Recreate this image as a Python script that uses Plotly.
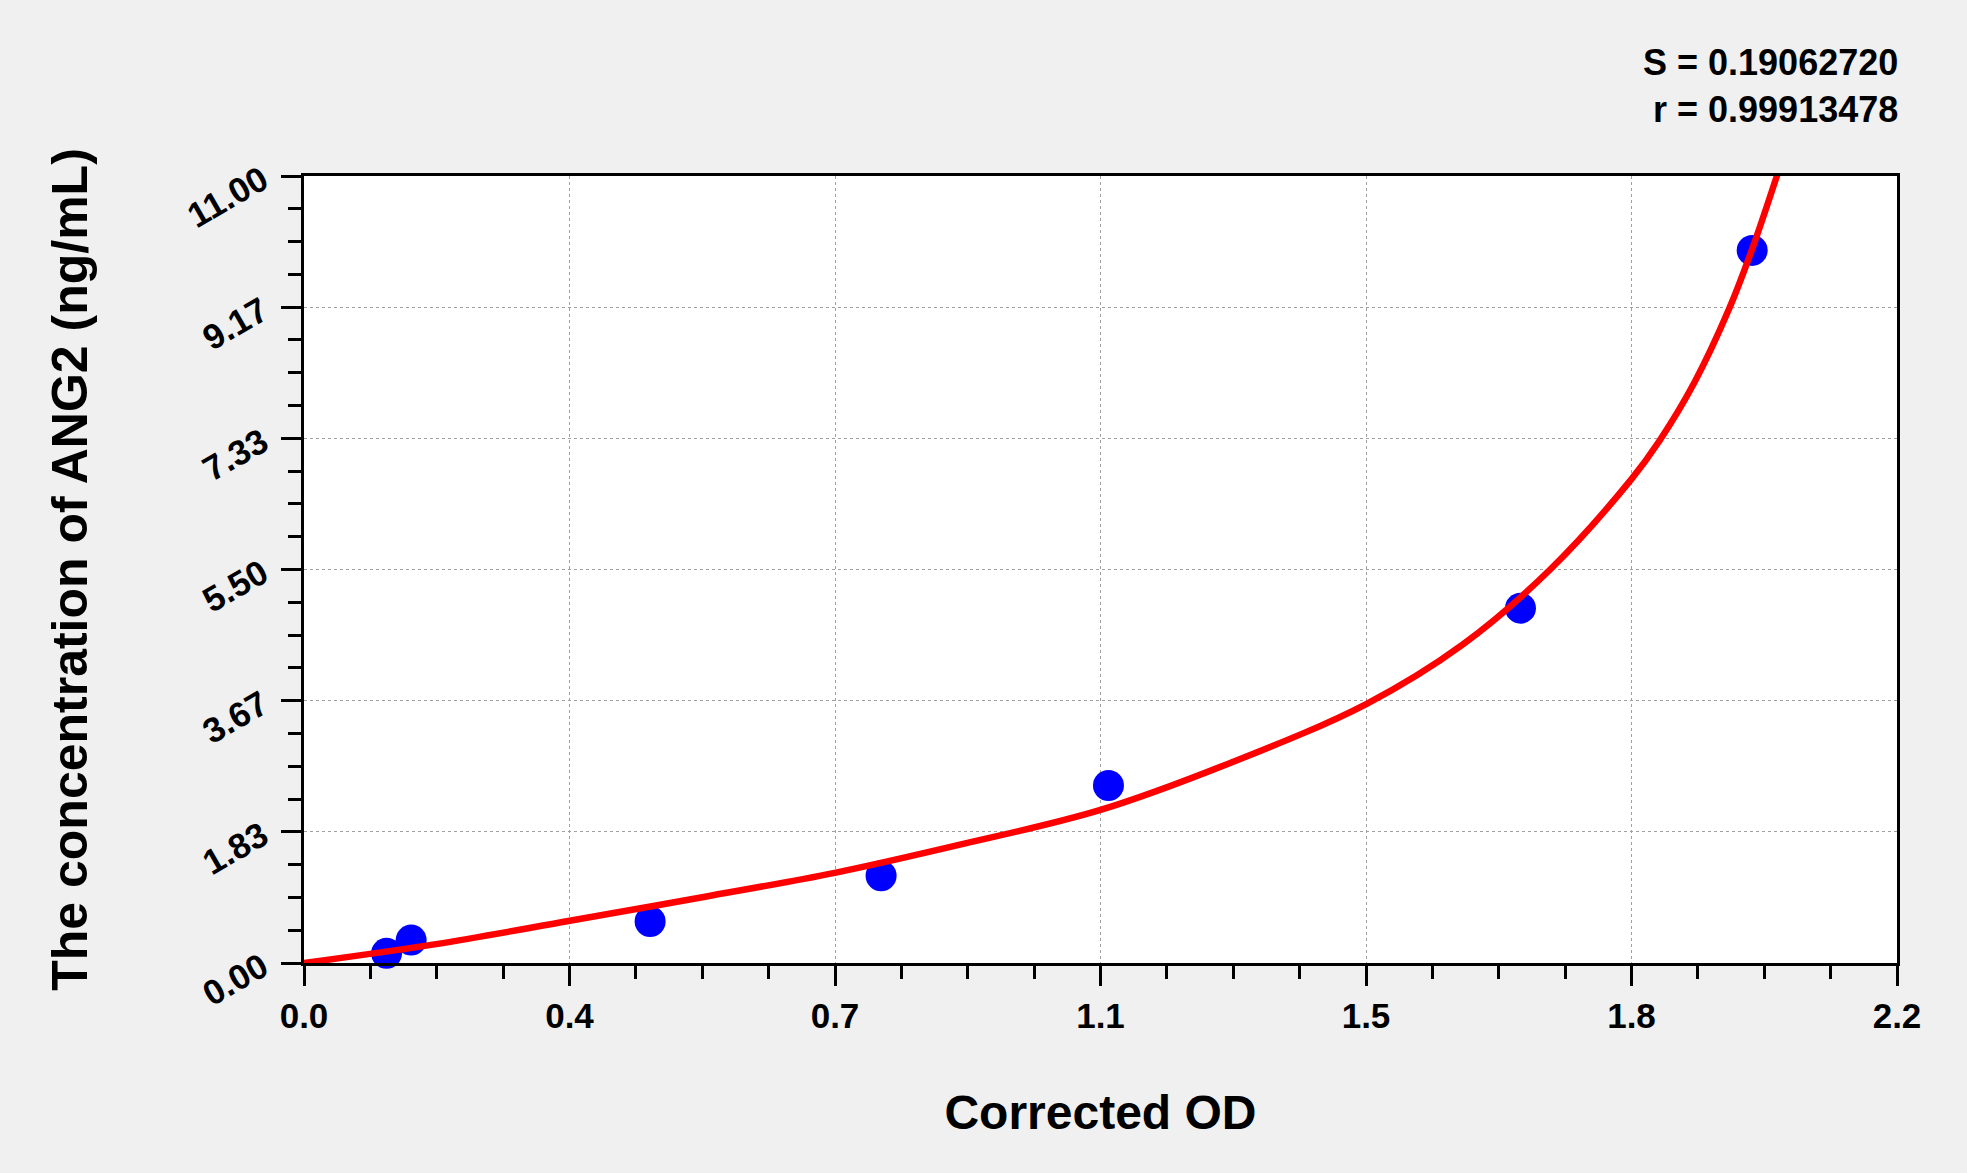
import plotly.graph_objects as go

# Standard points (Corrected OD vs concentration)
od_points = [0.114, 0.148, 0.478, 0.797, 1.111, 1.680, 2.000]
conc_points = [0.135, 0.32, 0.58, 1.22, 2.48, 4.96, 9.96]

# Fitted curve
curve_od = [0.0, 0.18, 0.367, 0.55, 0.733, 0.90, 1.10, 1.28, 1.467, 1.60, 1.721, 1.833, 1.872, 1.920, 1.968, 2.000, 2.037]
curve_conc = [0.0, 0.26, 0.59, 0.92, 1.26, 1.64, 2.14, 2.80, 3.62, 4.45, 5.50, 6.76, 7.30, 8.11, 9.14, 9.98, 11.09]

x_tick_labels = ["0.0", "0.4", "0.7", "1.1", "1.5", "1.8", "2.2"]
y_tick_labels = ["0.00", "1.83", "3.67", "5.50", "7.33", "9.17", "11.00"]
x_max = 2.2
y_max = 11.0

stat_lines = ["S = 0.19062720", "r = 0.99913478"]

FONT = "Liberation Sans, Arial, sans-serif"

n = len(x_tick_labels) - 1
x_tickvals = [x_max * i / n for i in range(n + 1)]
y_tickvals = [y_max * i / n for i in range(n + 1)]

fig = go.Figure()
fig.add_trace(go.Scatter(
    x=od_points, y=conc_points, mode="markers",
    marker=dict(color="#0000FF", size=31, line=dict(width=0)),
    cliponaxis=False, showlegend=False,
))
fig.add_trace(go.Scatter(
    x=curve_od, y=curve_conc, mode="lines",
    line=dict(color="#FF0000", width=6.5, shape="spline", smoothing=1.0),
    showlegend=False,
))

axis_common = dict(
    showline=True, linewidth=3, linecolor="black", mirror=True,
    ticks="outside", ticklen=20, tickwidth=3, tickcolor="black",
    showgrid=True, gridcolor="#A0A0A0", gridwidth=1, griddash="3px,3px",
    zeroline=False,
    tickfont=dict(family=FONT, size=35, color="black", weight="bold"),
    automargin=False,
)

fig.update_xaxes(
    range=[0, x_max], tickmode="array", tickvals=x_tickvals, ticktext=x_tick_labels,
    minor=dict(dtick=x_max / (n * 4), tick0=0, ticks="outside", ticklen=13, tickwidth=3, tickcolor="black", showgrid=False),
    title=dict(text="Corrected OD", font=dict(family=FONT, size=48, color="black", weight="bold"), standoff=62),
    **axis_common,
)
fig.update_yaxes(
    range=[0, y_max], tickmode="array", tickvals=y_tickvals, ticktext=y_tick_labels,
    tickangle=-30, ticklabelstandoff=12,
    minor=dict(dtick=y_max / (n * 4), tick0=0, ticks="outside", ticklen=13, tickwidth=3, tickcolor="black", showgrid=False),
    title=dict(text="The concentration of ANG2 (ng/mL)", font=dict(family=FONT, size=50, color="black", weight="bold"), standoff=78),
    **axis_common,
)

W, H = 1967, 1173
L, R, T, B = 304, 70, 176, 210
pw, ph = W - L - R, H - T - B
fig.add_annotation(
    x=(1900 - L) / pw, y=(H - 40 - B) / ph, xref="paper", yref="paper",
    xanchor="right", yanchor="top", showarrow=False,
    text="<br>".join(stat_lines), align="right",
    font=dict(family=FONT, size=36, color="black", weight="bold"),
)

fig.update_layout(
    width=W, height=H,
    margin=dict(l=L, r=R, t=T, b=B, autoexpand=False),
    paper_bgcolor="#F0F0F0", plot_bgcolor="white",
    showlegend=False,
)

fig.write_html("out.html", config={"displayModeBar": False},
               post_script="document.body.style.margin='0';")
